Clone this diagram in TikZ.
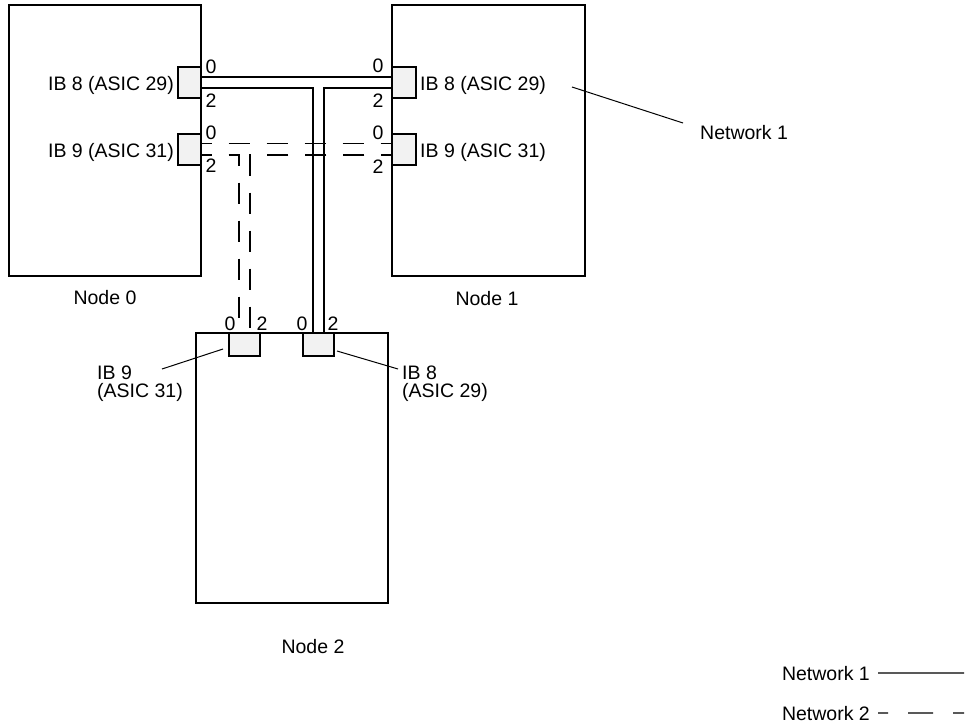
\documentclass[tikz,border=0pt]{standalone}
\usepackage{fontspec}
\setmainfont{Liberation Sans}
\usetikzlibrary{calc}
\pgfdeclarelayer{edgelayer}
\pgfdeclarelayer{nodelayer}
\pgfsetlayers{edgelayer,nodelayer,main}
\tikzstyle{none}=[inner sep=0mm]
\tikzstyle{txt}=[inner sep=0mm,font=\fontsize{19.5}{18}\selectfont]
\tikzstyle{chassis}=[draw=black,line width=1.3pt,inner sep=0mm]
\tikzstyle{port}=[draw=black,fill=black!5,line width=1.3pt,inner sep=0mm]
\tikzstyle{net one}=[line width=1.3pt]
\tikzstyle{net two}=[line width=1.3pt,dash pattern=on 21pt off 17pt,dash phase=11pt]
\tikzstyle{key two}=[line width=1.3pt,dash pattern=on 25pt off 20pt,dash phase=15pt]
\tikzstyle{leader}=[line width=1pt]

\begin{document}
\begin{tikzpicture}[x=1pt,y=-1pt]
	\useasboundingbox (0,0) rectangle (972,726);
	\begin{pgfonlayer}{nodelayer}
		% the three nodes
		\node [style=chassis, minimum width=192pt, minimum height=271pt] (node0) at (105,140.5) {};
		\node [style=chassis, minimum width=193pt, minimum height=271pt] (node1) at (488.5,140.5) {};
		\node [style=chassis, minimum width=192pt, minimum height=270pt] (node2) at (292,468) {};
		\node [style=txt, anchor=base] (cap0) at (105,304) {Node 0};
		\node [style=txt, anchor=base] (cap1) at (487,305) {Node 1};
		\node [style=txt, anchor=base] (cap2) at (313,653) {Node 2};
		% IB ports
		\node [style=port, minimum width=23pt, minimum height=31pt] (n0ib8) at (189.5,82.5) {};
		\node [style=port, minimum width=23pt, minimum height=31pt] (n0ib9) at (189.5,149.5) {};
		\node [style=port, minimum width=24pt, minimum height=31pt] (n1ib8) at (404,82.5) {};
		\node [style=port, minimum width=24pt, minimum height=31pt] (n1ib9) at (404,149.5) {};
		\node [style=port, minimum width=31pt, minimum height=23pt] (n2ib9) at (244.5,344.5) {};
		\node [style=port, minimum width=31pt, minimum height=23pt] (n2ib8) at (318.5,344.5) {};
		\node [style=txt, anchor=base east] (t0ib8) at (174,90) {IB 8 (ASIC 29)};
		\node [style=txt, anchor=base east] (t0ib9) at (174,157) {IB 9 (ASIC 31)};
		\node [style=txt, anchor=base west] (t1ib8) at (420,90) {IB 8 (ASIC 29)};
		\node [style=txt, anchor=base west] (t1ib9) at (420,157) {IB 9 (ASIC 31)};
		\node [style=txt, align=left, anchor=north west] (t2ib9) at (97,366) {IB 9\\(ASIC 31)};
		\node [style=txt, align=left, anchor=north west] (t2ib8) at (402,366) {IB 8\\(ASIC 29)};
		% port numbers
		\node [style=txt, anchor=base] (a0) at (211,73) {0};
		\node [style=txt, anchor=base] (a2) at (211,107) {2};
		\node [style=txt, anchor=base] (b0) at (211,139) {0};
		\node [style=txt, anchor=base] (b2) at (211,172) {2};
		\node [style=txt, anchor=base] (c0) at (378,72) {0};
		\node [style=txt, anchor=base] (c2) at (378,107) {2};
		\node [style=txt, anchor=base] (d0) at (378,139) {0};
		\node [style=txt, anchor=base] (d2) at (378,173) {2};
		\node [style=txt, anchor=base] (e0) at (230,330) {0};
		\node [style=txt, anchor=base] (e2) at (262,330) {2};
		\node [style=txt, anchor=base] (f0) at (302,330) {0};
		\node [style=txt, anchor=base] (f2) at (333,330) {2};
		% callout and legend
		\node [style=txt, anchor=base west] (netlbl) at (700,139) {Network 1};
		\node [style=txt, anchor=base east] (leg1) at (870,680) {Network 1};
		\node [style=txt, anchor=base east] (leg2) at (870,720) {Network 2};
		\coordinate (n1tip) at (572,87);
		\coordinate (n1end) at (683,123);
		\coordinate (ib9tip) at (223,349);
		\coordinate (ib9end) at (162,369);
		\coordinate (ib8tip) at (337,351);
		\coordinate (ib8end) at (398,369);
		\coordinate (leg1end) at (964,673);
		\coordinate (leg2end) at (964,713);
	\end{pgfonlayer}
	\begin{pgfonlayer}{edgelayer}
		\draw [style=net one] ([yshift=5.5pt]n0ib8.east) to ([yshift=5.5pt]n1ib8.west);
		\draw [style=net one] ([yshift=-5.5pt]n0ib8.east) -| ([xshift=-5.5pt]n2ib8.north);
		\draw [style=net one] ([yshift=-5.5pt]n1ib8.west) -| ([xshift=5.5pt]n2ib8.north);
		\draw [style=net two] ([yshift=6pt]n0ib9.east) to ([yshift=6pt]n1ib9.west);
		\draw [style=net two] ([yshift=-5.5pt]n0ib9.east) -| ([xshift=-5.5pt]n2ib9.north);
		\draw [style=net two] ([yshift=-5.5pt]n1ib9.west) -| ([xshift=5.5pt]n2ib9.north);
		\draw [style=leader] (n1tip) to (n1end);
		\draw [style=leader] (ib9tip) to (ib9end);
		\draw [style=leader] (ib8tip) to (ib8end);
		\draw [style=net one] ([xshift=8pt]leg1.east) to (leg1end);
		\draw [style=key two] ([xshift=8pt]leg2.east) to (leg2end);
	\end{pgfonlayer}
\end{tikzpicture}
\end{document}
